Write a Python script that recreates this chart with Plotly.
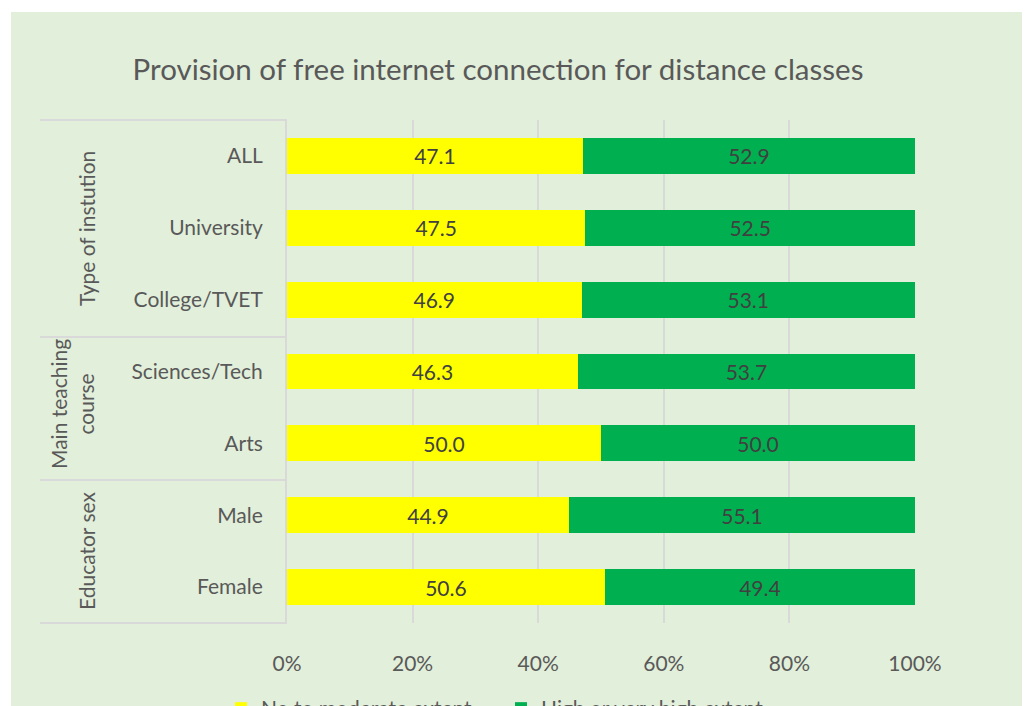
import plotly.graph_objects as go

categories = ["ALL", "University", "College/TVET", "Sciences/Tech", "Arts", "Male", "Female"]
low_vals = [47.1, 47.5, 46.9, 46.3, 50.0, 44.9, 50.6]
high_vals = [52.9, 52.5, 53.1, 53.7, 50.0, 55.1, 49.4]
series_names = ["No to moderate extent", "High or very high extent"]
group_labels = ["Type of instution", "Main teaching<br>course", "Educator sex"]
x_ticks = [0, 20, 40, 60, 80, 100]

W, H = 1032, 706
L, R, T, B = 287, 915, 120, 623
PW, PH = R - L, B - T

def px_x(px):
    return (px - L) / PW

def px_y(py):
    return (B - py) / PH

FONT = "Lato"
GRAY = "#595959"
LINE = "#d9d9d9"

fig = go.Figure()
fig.add_trace(go.Bar(
    y=categories, x=low_vals, orientation="h", name=series_names[0],
    marker=dict(color="#FFFF00", line=dict(width=0)),
    text=[f"{v:.1f}" for v in low_vals], textposition="inside",
    insidetextanchor="middle", textangle=0,
    textfont=dict(family=FONT, size=21, color="#404040"),
))
fig.add_trace(go.Bar(
    y=categories, x=high_vals, orientation="h", name=series_names[1],
    marker=dict(color="#00B050", line=dict(width=0)),
    text=[f"{v:.1f}" for v in high_vals], textposition="inside",
    insidetextanchor="middle", textangle=0,
    textfont=dict(family=FONT, size=21, color="#404040"),
))

shapes = [
    dict(type="rect", xref="paper", yref="paper", layer="below",
         x0=px_x(11), x1=px_x(1022), y0=px_y(H + 20), y1=px_y(12),
         fillcolor="#E2EFDA", line=dict(width=0)),
]
for py in [120, 337, 480, 623]:
    shapes.append(dict(type="line", xref="paper", yref="paper",
                       x0=px_x(40), x1=0, y0=px_y(py), y1=px_y(py),
                       line=dict(color=LINE, width=2)))

ann_font = dict(family=FONT, size=21, color=GRAY)
annotations = [
    dict(text=group_labels[0], xref="paper", yref="paper", x=px_x(86), y=px_y(229),
         xanchor="center", yanchor="middle",
         textangle=-90, showarrow=False, font=ann_font),
    dict(text=group_labels[1], xref="paper", yref="paper", x=px_x(72), y=px_y(404),
         xanchor="center", yanchor="middle",
         textangle=-90, showarrow=False, font=ann_font),
    dict(text=group_labels[2], xref="paper", yref="paper", x=px_x(86), y=px_y(551),
         xanchor="center", yanchor="middle",
         textangle=-90, showarrow=False, font=ann_font),
]

fig.update_layout(
    width=W, height=H,
    barmode="stack", bargap=0.5,
    paper_bgcolor="white", plot_bgcolor="rgba(0,0,0,0)",
    margin=dict(l=L, r=W - R, t=T, b=H - B, autoexpand=False),
    title=dict(text="Provision of free internet connection for distance classes",
               x=498 / W, xref="container", xanchor="center",
               y=1 - 70 / H, yref="container", yanchor="middle",
               font=dict(family=FONT, size=29.5, color=GRAY)),
    font=dict(family=FONT, size=21, color=GRAY),
    xaxis=dict(range=[0, 100], tickvals=x_ticks, ticktext=[f"{v}%" for v in x_ticks],
               showgrid=True, gridcolor=LINE, gridwidth=1.5, zeroline=False,
               showline=False, ticks="outside", ticklen=22, tickcolor="rgba(0,0,0,0)",
               tickfont=dict(family=FONT, size=21, color=GRAY), fixedrange=True),
    yaxis=dict(categoryorder="array", categoryarray=categories, autorange="reversed",
               showline=True, linecolor=LINE, linewidth=2, showgrid=False,
               ticks="outside", ticklen=18, tickcolor="rgba(0,0,0,0)",
               tickfont=dict(family=FONT, size=21, color=GRAY), fixedrange=True),
    legend=dict(orientation="h", x=px_x(221), xanchor="left", y=px_y(688), yanchor="top",
                font=dict(family=FONT, size=21, color=GRAY), bgcolor="rgba(0,0,0,0)",
                traceorder="normal", itemwidth=30, entrywidth=235),
    shapes=shapes, annotations=annotations,
)

fig.write_html("out.html", config={"displayModeBar": False},
               post_script="document.body.style.margin='0';")
